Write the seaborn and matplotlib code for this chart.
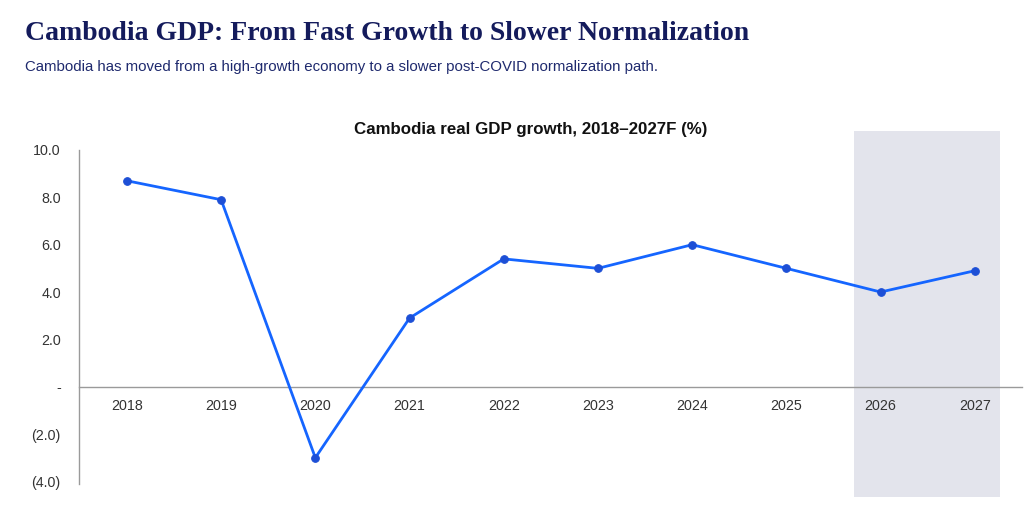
import matplotlib.pyplot as plt
import seaborn as sns
import pandas as pd
from matplotlib.ticker import FuncFormatter

years = ["2018", "2019", "2020", "2021", "2022", "2023", "2024", "2025", "2026", "2027"]
growth = [8.7, 7.9, -3.0, 2.9, 5.4, 5.0, 6.0, 5.0, 4.0, 4.9]
forecast_years = ["2026", "2027"]
y_ticks = [-4, -2, 0, 2, 4, 6, 8, 10]

df = pd.DataFrame({"year": years, "growth": growth})
df["pos"] = range(len(years))

sns.set_style("white")
plt.rcParams["font.family"] = ["Liberation Sans", "DejaVu Sans"]

fig = plt.figure(figsize=(10.24, 5.05), dpi=100)
ax = fig.add_axes([0.077, 0.042, 0.921, 0.661])

# forecast shading
start = years.index(forecast_years[0]) - 0.28
end = years.index(forecast_years[-1]) + 0.27
ax.axvspan(start, end, ymin=-0.04, ymax=1.057, color="#e3e4ec", zorder=0, clip_on=False, lw=0)

sns.lineplot(data=df, x="pos", y="growth", ax=ax, color="#1565ff", linewidth=2.0,
             marker="o", markersize=5.5, markerfacecolor="#1d4fd6", markeredgecolor="#1d4fd6",
             zorder=3)

ax.set_xlim(-0.51, len(years) - 0.5)
ax.set_ylim(-4.1, 10)
ax.set_xticks(df["pos"])
ax.set_xticklabels(years)
ax.set_yticks(y_ticks)


def fmt(v, _):
    if abs(v) < 1e-9:
        return "-"
    if v < 0:
        return f"({abs(v):.1f})"
    return f"{v:.1f}"


ax.yaxis.set_major_formatter(FuncFormatter(fmt))
ax.spines["top"].set_visible(False)
ax.spines["right"].set_visible(False)
ax.spines["bottom"].set_position(("data", 0))
for s in ["left", "bottom"]:
    ax.spines[s].set_color("#9a9a9a")
    ax.spines[s].set_linewidth(1.0)
ax.tick_params(axis="both", length=0, labelsize=10.3, colors="#333333", pad=13)
ax.tick_params(axis="x", pad=9)
ax.set_xlabel("")
ax.set_ylabel("")
ax.grid(False)
ax.set_facecolor("none")

fig.text(0.024, 0.92, "Cambodia GDP: From Fast Growth to Slower Normalization",
         family=["Liberation Serif", "DejaVu Serif"], fontweight="bold", fontsize=20,
         color="#141b5c")
fig.text(0.024, 0.86, "Cambodia has moved from a high-growth economy to a slower post-COVID normalization path.",
         fontsize=10.8, color="#1f2a6e")
fig.text(0.518, 0.735, "Cambodia real GDP growth, 2018\u20132027F (%)", ha="center",
         fontsize=12.2, fontweight="bold", color="#111111")

fig.savefig("out.png", dpi=100)
